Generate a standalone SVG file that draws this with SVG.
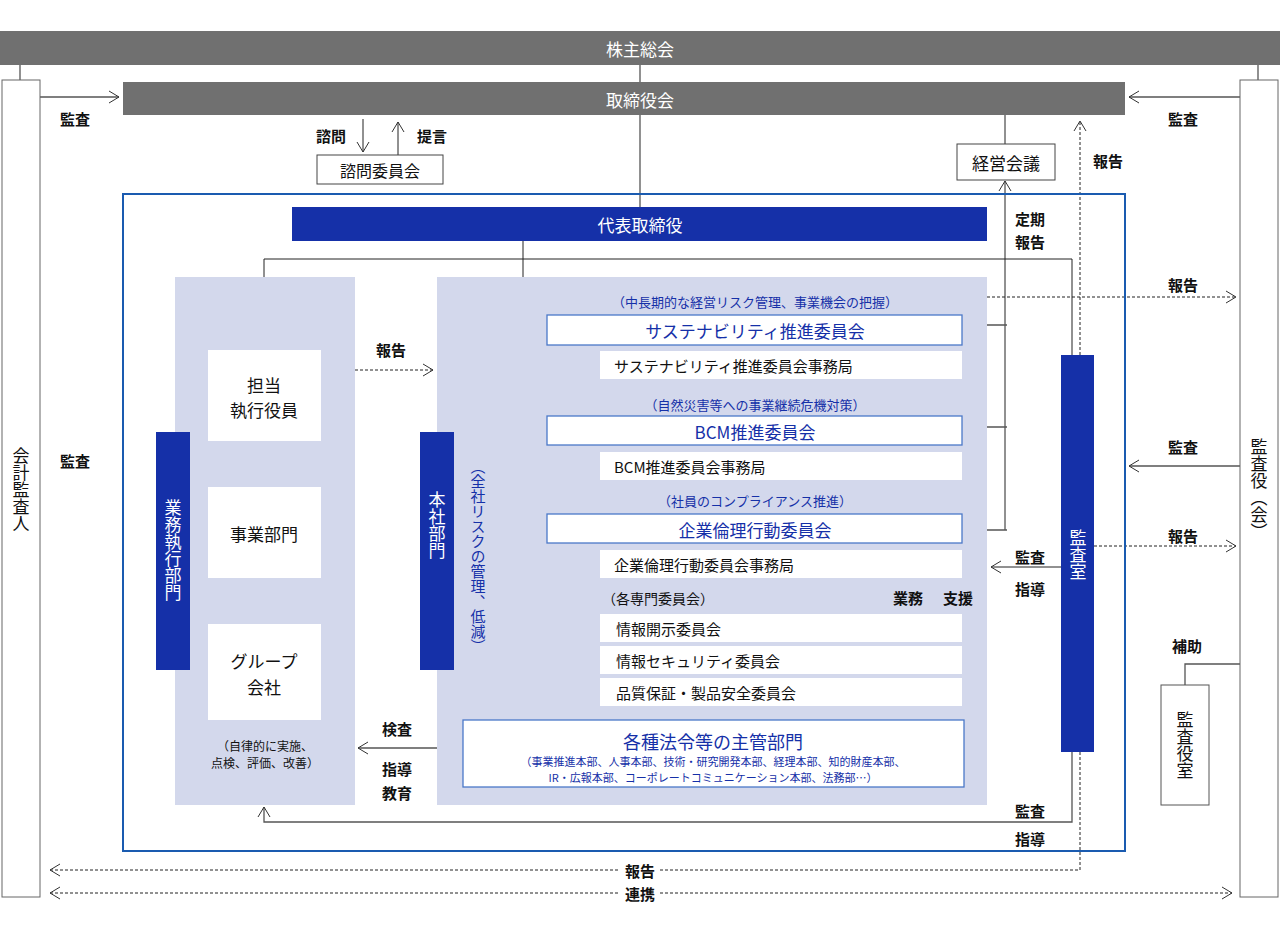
<svg xmlns="http://www.w3.org/2000/svg" width="1280" height="933" viewBox="0 0 1280 933">
<defs>
<style>
text{font-family:"Noto Sans CJK JP","Liberation Sans",sans-serif;fill:#111;text-anchor:middle;dominant-baseline:central}
.w{fill:#fff}.b{fill:#1530a8}.bold{font-weight:bold}
.v{writing-mode:vertical-rl;text-orientation:upright}
.ln{stroke:#555;stroke-width:1.3;fill:none}
.lk{stroke:#222;stroke-width:1;fill:none}
.ds{stroke:#222;stroke-width:1;fill:none;stroke-dasharray:3,2}
.gray{fill:#707070}
.navy{fill:#1530a8}
.pale{fill:#d3d8ec}
</style>
<marker id="a" markerWidth="12" markerHeight="14" refX="11" refY="7" orient="auto" markerUnits="userSpaceOnUse"><path d="M1,1 L11,7 L1,13" fill="none" stroke="#333" stroke-width="1"/></marker>
<marker id="as" markerWidth="12" markerHeight="14" refX="11" refY="7" orient="auto-start-reverse" markerUnits="userSpaceOnUse"><path d="M1,1 L11,7 L1,13" fill="none" stroke="#333" stroke-width="1"/></marker>
</defs>
<rect width="1280" height="933" fill="#fff"/>

<g id="connectors">
<line class="ln" x1="20" y1="65" x2="20" y2="80"/>
<line class="ln" x1="1258" y1="65" x2="1258" y2="80"/>
<line class="ln" x1="640" y1="65" x2="640" y2="208"/>
<line class="ln" x1="40" y1="97" x2="119" y2="97" marker-end="url(#a)"/>
<line class="ln" x1="1240" y1="97" x2="1129" y2="97" marker-end="url(#a)"/>
<line class="lk" x1="363" y1="119" x2="363" y2="152" marker-end="url(#a)"/>
<line class="lk" x1="398" y1="155" x2="398" y2="122" marker-end="url(#a)"/>
<line class="lk" x1="1005" y1="115" x2="1005" y2="144"/>
<line class="lk" x1="1005" y1="530" x2="1005" y2="181" marker-end="url(#a)"/>
<path class="ln" d="M962,325 H1007 M962,427 H1007 M962,530 H1007"/>
<path class="ds" d="M1080,355 V121" marker-end="url(#a)"/>
<path class="ds" d="M1080,752 V870 H50" marker-end="url(#a)"/>
<line class="ds" x1="50" y1="893" x2="1232" y2="893" marker-start="url(#as)" marker-end="url(#as)"/>
<path class="lk" d="M523,241 V520 H547"/>
<line class="lk" x1="523" y1="325" x2="545" y2="325" marker-end="url(#a)"/>
<line class="lk" x1="523" y1="427" x2="545" y2="427" marker-end="url(#a)"/>
<path class="lk" d="M264,350 V259 H1072 V355"/>
<line class="lk" x1="264" y1="441" x2="264" y2="487"/>
<line class="ds" x1="355" y1="370" x2="433" y2="370" marker-end="url(#a)"/>
<path class="lk" d="M578,345 V365 H600 M578,445 V466 H600 M578,543 V564 H600"/>
<path class="lk" d="M565,543 V692"/>
<line class="lk" x1="565" y1="628" x2="597" y2="628" marker-end="url(#a)"/>
<line class="lk" x1="565" y1="660" x2="597" y2="660" marker-end="url(#a)"/>
<line class="lk" x1="565" y1="692" x2="597" y2="692" marker-end="url(#a)"/>
<line class="ds" x1="933" y1="380" x2="933" y2="720"/>
<line class="ln" x1="437" y1="748" x2="358" y2="748" marker-end="url(#a)"/>
<line class="lk" x1="1061" y1="567" x2="991" y2="567" marker-end="url(#a)"/>
<path class="ln" d="M1072,752 V822 H264 V807" marker-end="url(#a)"/>
<line class="ds" x1="987" y1="297" x2="1236" y2="297" marker-end="url(#a)"/>
<line class="ln" x1="1240" y1="466" x2="1129" y2="466" marker-end="url(#a)"/>
<line class="ds" x1="1094" y1="546" x2="1236" y2="546" marker-end="url(#a)"/>
<path class="ln" d="M1240,664 H1185 V685"/>
</g>

<g id="frame"><rect x="123" y="194" width="1002" height="657" fill="none" stroke="#1a5bb0" stroke-width="2"/></g>

<g id="n-shareholders"><rect class="gray" x="0" y="31" width="1280" height="34"/><text class="w" x="640" y="48" font-size="17">株主総会</text></g>
<g id="n-board"><rect class="gray" x="123" y="82" width="1002" height="33"/><text class="w" x="640" y="99" font-size="17">取締役会</text></g>
<g id="n-auditor"><rect x="2" y="80" width="38" height="817" fill="#fff" stroke="#666"/><text class="v" x="21" y="490" font-size="17">会計監査人</text></g>
<g id="n-kansayaku"><rect x="1240" y="80" width="38" height="817" fill="#fff" stroke="#666"/><text class="v" x="1259" y="489" font-size="17">監査役（会）</text></g>
<g id="n-advisory"><rect x="317" y="155" width="126" height="29" fill="#fff" stroke="#444"/><text x="380" y="170" font-size="16">諮問委員会</text></g>
<g id="n-mgmt"><rect x="957" y="144" width="98" height="36" fill="#fff" stroke="#444"/><text x="1006" y="162" font-size="17">経営会議</text></g>
<g id="n-ceo"><rect class="navy" x="292" y="207" width="695" height="34"/><text class="w" x="640" y="224" font-size="17">代表取締役</text></g>
<g id="n-leftpanel"><rect class="pale" x="175" y="277" width="180" height="528"/></g>
<g id="n-rightpanel"><rect class="pale" x="437" y="277" width="550" height="528"/></g>
<g id="n-officer"><rect fill="#fff" x="208" y="350" width="113" height="91"/><text x="264" y="384" font-size="17">担当</text><text x="264" y="409" font-size="17">執行役員</text></g>
<g id="n-business"><rect fill="#fff" x="208" y="487" width="113" height="91"/><text x="264" y="533" font-size="17">事業部門</text></g>
<g id="n-group"><rect fill="#fff" x="208" y="624" width="113" height="96"/><text x="264" y="660" font-size="17">グループ</text><text x="264" y="686" font-size="17">会社</text></g>
<g id="n-gyomu"><rect class="navy" x="156" y="432" width="34" height="238"/><text class="v w" x="173" y="550" font-size="17">業務執行部門</text></g>
<g id="n-honsha"><rect class="navy" x="420" y="432" width="34" height="238"/><text class="v w" x="437" y="525" font-size="17">本社部門</text></g>
<text class="b" x="478" y="556" font-size="15" style="writing-mode:vertical-rl">（全社リスクの管理、低減）</text>
<text x="265" y="745" font-size="12">（自律的に実施、</text>
<text x="265" y="762" font-size="12">点検、評価、改善）</text>

<g id="n-sus"><text class="b" x="755" y="301" font-size="13">（中長期的な経営リスク管理、事業機会の把握）</text><rect x="547" y="315" width="415" height="30" fill="#fff" stroke="#4a78c8" stroke-width="1.3"/><text class="b" x="755" y="330" font-size="17">サステナビリティ推進委員会</text></g>
<g id="n-sus-sec"><rect fill="#fff" x="600" y="351" width="362" height="28"/><text x="614" y="365" font-size="15" style="text-anchor:start">サステナビリティ推進委員会事務局</text></g>
<g id="n-bcm"><text class="b" x="755" y="404" font-size="13">（自然災害等への事業継続危機対策）</text><rect x="547" y="416" width="415" height="29" fill="#fff" stroke="#4a78c8" stroke-width="1.3"/><text class="b" x="755" y="431" font-size="17">BCM推進委員会</text></g>
<g id="n-bcm-sec"><rect fill="#fff" x="600" y="452" width="362" height="28"/><text x="614" y="466" font-size="15" style="text-anchor:start">BCM推進委員会事務局</text></g>
<g id="n-ethics"><text class="b" x="755" y="500" font-size="13">（社員のコンプライアンス推進）</text><rect x="547" y="514" width="415" height="29" fill="#fff" stroke="#4a78c8" stroke-width="1.3"/><text class="b" x="755" y="529" font-size="17">企業倫理行動委員会</text></g>
<g id="n-ethics-sec"><rect fill="#fff" x="600" y="550" width="362" height="28"/><text x="614" y="564" font-size="15" style="text-anchor:start">企業倫理行動委員会事務局</text></g>
<text x="602" y="598" font-size="14" style="text-anchor:start">（各専門委員会）</text>
<text class="bold" x="908" y="597" font-size="15">業務</text>
<text class="bold" x="958" y="597" font-size="15">支援</text>
<g id="n-disclosure"><rect fill="#fff" x="600" y="614" width="362" height="28"/><text x="616" y="628" font-size="15" style="text-anchor:start">情報開示委員会</text></g>
<g id="n-security"><rect fill="#fff" x="600" y="646" width="362" height="28"/><text x="616" y="660" font-size="15" style="text-anchor:start">情報セキュリティ委員会</text></g>
<g id="n-quality"><rect fill="#fff" x="600" y="678" width="362" height="28"/><text x="616" y="692" font-size="15" style="text-anchor:start">品質保証・製品安全委員会</text></g>
<g id="n-legal"><rect x="463" y="720" width="501" height="67" fill="#fff" stroke="#4a78c8" stroke-width="1.3"/><text class="b" x="713" y="741" font-size="18">各種法令等の主管部門</text><text class="b" x="713" y="761" font-size="11">（事業推進本部、人事本部、技術・研究開発本部、経理本部、知的財産本部、</text><text class="b" x="713" y="777" font-size="11">IR・広報本部、コーポレートコミュニケーション本部、法務部…）</text></g>
<g id="n-auditroom"><rect class="navy" x="1061" y="355" width="33" height="397"/><text class="v w" x="1078" y="555" font-size="17">監査室</text></g>
<g id="n-kansayakushitsu"><rect x="1161" y="685" width="48" height="120" fill="#fff" stroke="#555"/><text class="v" x="1185" y="745" font-size="17">監査役室</text></g>

<g id="labels" class="bold" font-size="15">
<text class="bold" x="75" y="118" font-size="15">監査</text>
<text class="bold" x="75" y="460" font-size="15">監査</text>
<text class="bold" x="1183" y="118" font-size="15">監査</text>
<text class="bold" x="331" y="135" font-size="15">諮問</text>
<text class="bold" x="432" y="135" font-size="15">提言</text>
<text class="bold" x="1108" y="160" font-size="15">報告</text>
<text class="bold" x="1030" y="218" font-size="15">定期</text>
<text class="bold" x="1030" y="241" font-size="15">報告</text>
<text class="bold" x="1183" y="284" font-size="15">報告</text>
<text class="bold" x="391" y="349" font-size="15">報告</text>
<text class="bold" x="1183" y="446" font-size="15">監査</text>
<text class="bold" x="1183" y="535" font-size="15">報告</text>
<text class="bold" x="1030" y="556" font-size="15">監査</text>
<text class="bold" x="1030" y="588" font-size="15">指導</text>
<text class="bold" x="1187" y="645" font-size="15">補助</text>
<text class="bold" x="397" y="728" font-size="15">検査</text>
<text class="bold" x="397" y="768" font-size="15">指導</text>
<text class="bold" x="397" y="792" font-size="15">教育</text>
<text class="bold" x="1030" y="810" font-size="15">監査</text>
<text class="bold" x="1030" y="838" font-size="15">指導</text>
</g>
<rect x="620" y="861" width="40" height="18" fill="#fff"/>
<rect x="620" y="884" width="40" height="18" fill="#fff"/>
<text class="bold" x="640" y="870" font-size="15">報告</text>
<text class="bold" x="640" y="893" font-size="15">連携</text>
</svg>
